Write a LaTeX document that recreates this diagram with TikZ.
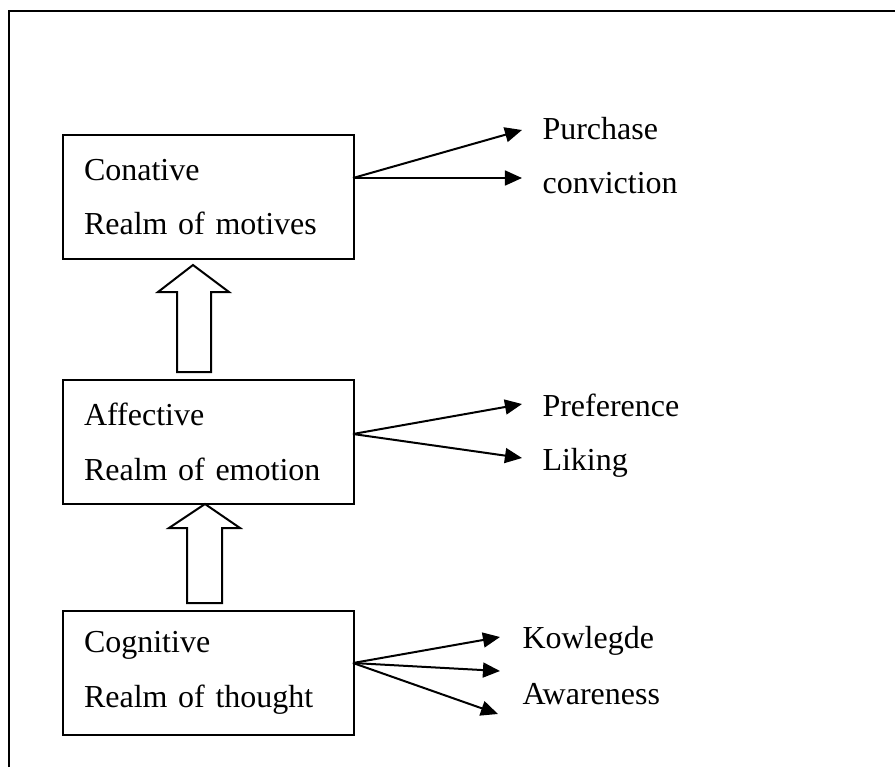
\documentclass[tikz,border=0pt]{standalone}
\usepackage{fontspec}
\setmainfont{Liberation Serif}
\usetikzlibrary{arrows.meta}

\tikzset{
  stage/.style={draw, line width=0.8pt, rectangle, anchor=north west,
    text width=93.4pt, inner xsep=7.85pt, minimum height=46.5pt,
    align=left, font=\fontsize{12}{20.6}\selectfont},
  outcome/.style={anchor=base west, inner sep=0pt, font=\fontsize{12}{14}\selectfont},
  lead/.style={-{Triangle[length=6.4pt,width=5.6pt]}, line width=0.75pt},
  blockarrow/.style={draw, line width=0.75pt, fill=white, line join=miter}
}

\begin{document}
\begin{tikzpicture}[x=0.375pt, y=-0.375pt]
\useasboundingbox (0,0) rectangle (895,767);

% Frame
\draw[line width=1pt] (9,767) -- (9,11) -- (895,11);

% Stages
\node[stage] (con) at (62,134) {Conative\\Realm of motives};
\node[stage] (aff) at (62,379) {Affective\\Realm of emotion};
\node[stage] (cog) at (62,610) {Cognitive\\Realm of thought};

% Block arrows
\draw[blockarrow] (177,372) -- (177,292) -- (158,292) -- (193,265) -- (229,292) -- (211,292) -- (211,372) -- cycle;
\draw[blockarrow] (187,603) -- (187,528) -- (169,528) -- (205,504) -- (240,528) -- (222,528) -- (222,603) -- cycle;

%Conative
\coordinate (con out) at (353,178);
\coordinate (purchase tip) at (522,130);
\coordinate (conviction tip) at (522,178);
\node[outcome] (purchase) at (542,139) {Purchase};
\node[outcome] (conviction) at (542,193) {conviction};
\draw[lead] (con out) -- (purchase tip);
\draw[lead] (con out) -- (conviction tip);

%Affective
\coordinate (aff out) at (353,434);
\coordinate (preference tip) at (522,404);
\coordinate (liking tip) at (522,458);
\node[outcome] (preference) at (542,416) {Preference};
\node[outcome] (liking) at (542,470) {Liking};
\draw[lead] (aff out) -- (preference tip);
\draw[lead] (aff out) -- (liking tip);

%Cognitive
\coordinate (cog out) at (353,663);
\coordinate (knowledge tip) at (500,637);
\coordinate (mid tip) at (500,671);
\coordinate (awareness tip) at (498,714);
\node[outcome] (knowledge) at (522,648) {Kowlegde};
\node[outcome] (awareness) at (522,704) {Awareness};
\draw[lead] (cog out) -- (knowledge tip);
\draw[lead] (cog out) -- (mid tip);
\draw[lead] (cog out) -- (awareness tip);

\end{tikzpicture}
\end{document}
